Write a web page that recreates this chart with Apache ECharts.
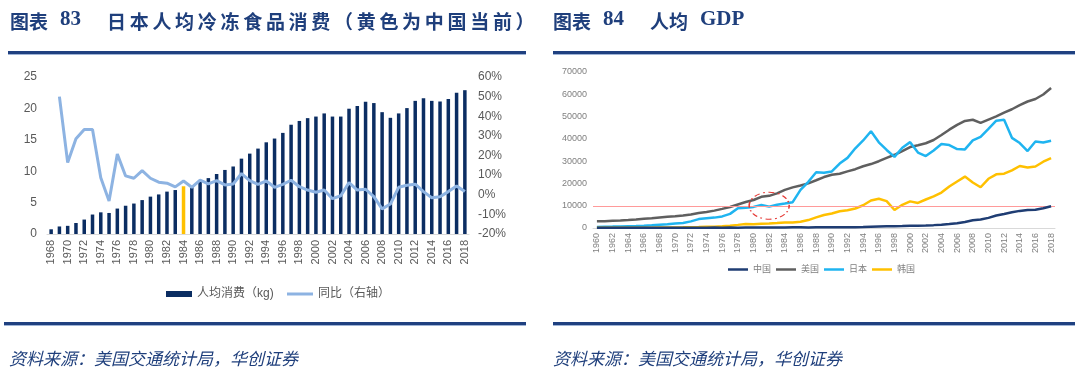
<!DOCTYPE html>
<html><head><meta charset="utf-8">
<script src="https://cdn.jsdelivr.net/npm/echarts@6/dist/echarts.min.js"></script>
<style>
html,body{margin:0;padding:0;background:#fff;width:1080px;height:378px;overflow:hidden;}
#chart{position:absolute;left:0;top:0;width:1080px;height:378px;}
.t{position:absolute;color:#1f3f7c;font-weight:700;white-space:nowrap;z-index:2;}
.cn{font-family:"Noto Sans CJK SC",sans-serif;font-size:19px;}
.num{font-family:"Liberation Serif",serif;font-size:21px;}
.rule{position:absolute;height:3px;background:#1f4080;border-bottom:1px solid #9fb4d6;z-index:2;}
.src{position:absolute;color:#1f3f7c;font-family:"Noto Sans CJK SC",sans-serif;font-size:17px;font-style:italic;white-space:nowrap;z-index:2;}
</style></head>
<body>
<div id="chart"></div>
<div class="t cn" style="left:10px;top:7px;">图表</div>
<div class="t num" style="left:60px;top:6px;">83</div>
<div class="t cn" style="left:107px;top:7px;letter-spacing:3.7px;">日本人均冷冻食品消费（黄色为中国当前）</div>
<div class="t cn" style="left:553px;top:7px;">图表</div>
<div class="t num" style="left:603px;top:6px;">84</div>
<div class="t cn" style="left:650px;top:7px;">人均</div>
<div class="t num" style="left:700px;top:6px;">GDP</div>
<div class="rule" style="left:8px;top:51px;width:518px;"></div>
<div class="rule" style="left:553px;top:51px;width:522px;"></div>
<div class="rule" style="left:4px;top:322px;width:522px;"></div>
<div class="rule" style="left:553px;top:322px;width:522px;"></div>
<div class="src" style="left:9px;top:345px;">资料来源：美国交通统计局，华创证券</div>
<div class="src" style="left:553px;top:345px;">资料来源：美国交通统计局，华创证券</div>
<script>
// ---- Left chart data (1968-2018) ----
const consYears = [];
for (let y = 1968; y <= 2018; y++) consYears.push(String(y));
const consumption = [0.75,1.2,1.3,1.75,2.3,3.1,3.45,3.35,4.05,4.5,
  4.85,5.4,5.95,6.3,6.75,7.0,7.6,7.45,8.45,8.9,
  9.55,10.2,10.75,12.0,12.8,13.6,14.6,15.2,16.1,17.4,
  18.0,18.45,18.7,19.2,18.7,18.7,19.95,20.4,21.05,20.85,
  19.4,18.5,19.2,20.05,21.2,21.6,21.2,21.1,21.5,22.5,22.9];
const yoy = [null,50,16.4,28.5,33.2,33.2,8.7,-3.2,20.7,9.6,
  8.4,12.3,8.4,6.4,5.9,4.0,7.0,3.8,7.5,5.5,
  7.2,5.0,5.5,10.8,7.2,5.3,7.0,3.8,5.3,7.4,
  4.1,2.4,1.3,2.4,-2.0,-0.5,6.2,2.4,2.8,-1.0,
  -7.2,-4.7,3.8,4.8,5.4,1.6,-1.5,-1.0,1.6,4.5,1.6];
const highlightYear = '1984';

// ---- Right chart data (1960-2018), GDP per capita ----
const gdpYears = [];
for (let y = 1960; y <= 2018; y++) gdpYears.push(String(y));
const china = [90,76,70,74,85,98,104,97,91,100,
  113,119,132,157,160,178,165,185,156,184,
  195,197,203,225,251,294,282,252,284,311,
  318,333,366,377,473,610,709,782,829,873,
  959,1053,1149,1289,1509,1753,2099,2694,3468,3832,
  4550,5618,6317,7051,7679,8067,8148,8879,9771];
const usa = [3007,3067,3244,3375,3574,3828,4146,4336,4696,5032,
  5234,5609,6094,6726,7226,7801,8592,9453,10565,11674,
  12575,13976,14434,15544,17121,18237,19071,20039,21417,22857,
  23889,24342,25419,26387,27695,28691,29968,31459,32854,34515,
  36335,37133,38023,39497,41712,44115,46299,48050,48570,47195,
  48651,50066,51784,53291,55124,56763,57867,59915,62805];
const japan = [479,564,634,717,835,919,1058,1228,1450,1669,
  2038,2272,2967,3998,4354,4659,5197,6335,8821,9105,
  9463,10361,9578,10425,10984,11577,17112,20745,25052,24813,
  25371,28925,31465,35766,39269,43440,38437,35022,31903,36027,
  38532,33846,32289,34808,37689,37218,35434,35275,39339,40855,
  44508,48168,48603,40454,38109,34524,38794,38387,39159];
const korea = [158,94,106,146,124,109,133,161,199,243,
  279,301,324,406,563,617,834,1055,1405,1783,
  1715,1883,1993,2199,2413,2482,2835,3555,4749,5817,
  6516,7523,8001,8741,10206,12333,13138,12059,8086,10409,
  11948,11253,12789,14209,15908,18640,20888,23061,20431,18292,
  22087,24080,24359,25890,27811,27105,27608,29743,31363];
const circledYear = '1982';

const labelFont = 'Liberation Sans, Noto Sans CJK SC, sans-serif';
const chart = echarts.init(document.getElementById('chart'));

const barData = consumption.map((v, i) => ({
  value: v,
  itemStyle: { color: consYears[i] === highlightYear ? '#ffc000' : '#0b2d62' }
}));

chart.setOption({
  animation: false,
  textStyle: { fontFamily: labelFont },
  grid: [
    { left: 47, top: 77, width: 422, height: 157 },
    { left: 593, top: 72, width: 462, height: 156 }
  ],
  legend: [
    {
      left: 161, top: 283, itemWidth: 26, itemHeight: 6,
      textStyle: { color: '#595959', fontSize: 12, fontFamily: labelFont },
      data: [{ name: '人均消费（kg)', icon: 'rect' }]
    },
    {
      left: 282, top: 283, itemWidth: 26, itemHeight: 3,
      textStyle: { color: '#595959', fontSize: 12, fontFamily: labelFont },
      data: [{ name: '同比（右轴）', icon: 'rect' }]
    },
    {
      left: 723, top: 260, itemWidth: 20, itemHeight: 2.5, itemGap: 5,
      textStyle: { color: '#7f7f7f', fontSize: 9, fontFamily: labelFont },
      data: [
        { name: '中国', icon: 'rect' }, { name: '美国', icon: 'rect' },
        { name: '日本', icon: 'rect' }, { name: '韩国', icon: 'rect' }
      ]
    }
  ],
  xAxis: [
    {
      type: 'category', gridIndex: 0, data: consYears,
      axisLine: { lineStyle: { color: '#d9d9d9', width: 1 } },
      axisTick: { show: false },
      axisLabel: { rotate: 90, interval: 1, color: '#595959', fontSize: 11, margin: 6 }
    },
    {
      type: 'category', gridIndex: 1, data: gdpYears,
      axisLine: { lineStyle: { color: '#d9d9d9', width: 1 } },
      axisTick: { show: false },
      axisLabel: { rotate: 90, interval: 1, color: '#7f7f7f', fontSize: 9, margin: 5 }
    }
  ],
  yAxis: [
    {
      type: 'value', gridIndex: 0, min: 0, max: 25, interval: 5,
      splitLine: { show: false }, axisLine: { show: false }, axisTick: { show: false },
      axisLabel: { color: '#595959', fontSize: 12, margin: 10 }
    },
    {
      type: 'value', gridIndex: 0, position: 'right', min: -20, max: 60, interval: 10,
      splitLine: { show: false }, axisLine: { show: false }, axisTick: { show: false },
      axisLabel: { color: '#595959', fontSize: 12, margin: 9, formatter: '{value}%' }
    },
    {
      type: 'value', gridIndex: 1, min: 0, max: 70000, interval: 10000,
      splitLine: { show: false }, axisLine: { show: false }, axisTick: { show: false },
      axisLabel: { color: '#7f7f7f', fontSize: 9, margin: 6, formatter: v => String(v) }
    }
  ],
  series: [
    {
      name: '人均消费（kg)', type: 'bar', xAxisIndex: 0, yAxisIndex: 0,
      data: barData, barWidth: 3.5, itemStyle: { color: '#0b2d62' }
    },
    {
      name: '同比（右轴）', type: 'line', xAxisIndex: 0, yAxisIndex: 1,
      data: yoy, symbol: 'none', connectNulls: false,
      lineStyle: { color: '#8db3e2', width: 3 }, itemStyle: { color: '#8db3e2' }
    },
    {
      name: '中国', type: 'line', xAxisIndex: 1, yAxisIndex: 2, data: china, symbol: 'none',
      lineStyle: { color: '#1f3d73', width: 2.5 }, itemStyle: { color: '#1f3d73' },
      z: 5,
      markLine: {
        silent: true, symbol: 'none', label: { show: false },
        lineStyle: { color: '#ff9a9a', width: 1.2, type: 'solid' },
        data: [{ yAxis: china[china.length - 1] }]
      }
    },
    {
      name: '美国', type: 'line', xAxisIndex: 1, yAxisIndex: 2, data: usa, symbol: 'none',
      lineStyle: { color: '#5f5f5f', width: 2.5 }, itemStyle: { color: '#5f5f5f' }
    },
    {
      name: '日本', type: 'line', xAxisIndex: 1, yAxisIndex: 2, data: japan, symbol: 'none',
      lineStyle: { color: '#1fb4f0', width: 2.5 }, itemStyle: { color: '#1fb4f0' },
      markPoint: {
        silent: true,
        symbol: 'path://M0,50 A50,50 0 1,1 100,50 A50,50 0 1,1 0,50 Z',
        symbolSize: [40, 27],
        symbolKeepAspect: false,
        label: { show: false },
        itemStyle: { color: 'rgba(0,0,0,0)', borderColor: '#e53935', borderWidth: 1.3, borderType: [5, 3, 1.5, 3] },
        data: [{ coord: [circledYear, 10000] }]
      }
    },
    {
      name: '韩国', type: 'line', xAxisIndex: 1, yAxisIndex: 2, data: korea, symbol: 'none',
      lineStyle: { color: '#ffc000', width: 2.5 }, itemStyle: { color: '#ffc000' }
    }
  ]
});
</script>
</body></html>
